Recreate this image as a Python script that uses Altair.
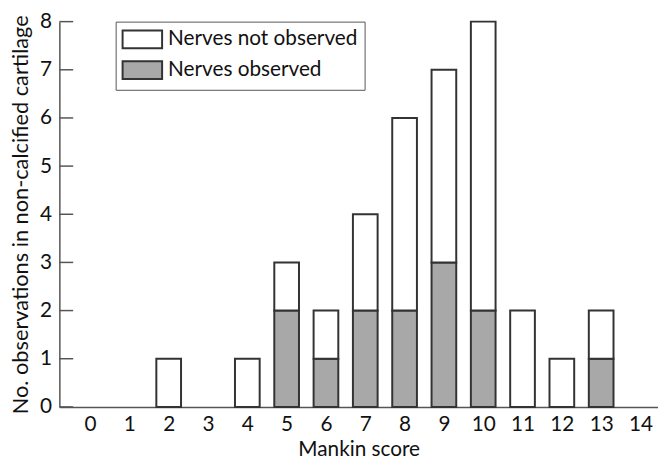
import altair as alt
import pandas as pd

# ---- data ----
scores = [2, 4, 5, 6, 7, 8, 9, 10, 11, 12, 13]
observed = [0, 0, 2, 1, 2, 2, 3, 2, 0, 0, 1]
not_observed = [1, 1, 1, 1, 2, 4, 4, 6, 2, 1, 1]
x_ticks = list(range(15))
y_ticks = list(range(9))
series = ["Nerves not observed", "Nerves observed"]
colors = ["#ffffff", "#a8a8a8"]

rows = []
for s, o, n in zip(scores, observed, not_observed):
    if o:
        rows.append({"score": s, "group": series[1], "count": o, "ord": 0})
    if n:
        rows.append({"score": s, "group": series[0], "count": n, "ord": 1})
df = pd.DataFrame(rows)

FONT = "Lato"
xscale = alt.Scale(domain=[-0.655, 14.32], nice=False, zero=False)
yscale = alt.Scale(domain=[0, 8], nice=False)

bars = alt.Chart(df).mark_bar(size=25, stroke="#333333", strokeWidth=2).encode(
    x=alt.X("score:Q", scale=xscale,
            axis=alt.Axis(values=x_ticks, title="Mankin score", ticks=False,
                          labelPadding=7, titlePadding=4, format="d")),
    y=alt.Y("count:Q", stack="zero", scale=yscale,
            axis=alt.Axis(values=y_ticks, title="No. observations in non-calcified cartilage",
                          ticks=False, labelPadding=8, titlePadding=7, format="d",
                          titleFontSize=22)),
    color=alt.Color("group:N", scale=alt.Scale(domain=series, range=colors),
                    legend=alt.Legend(title=None, orient="none", legendX=57, legendY=0,
                                      symbolType="M-2,-0.9H2V0.9H-2Z", symbolSize=400,
                                      symbolStrokeColor="#333333", symbolStrokeWidth=2,
                                      labelFontSize=21, labelFont=FONT, labelColor="#111111",
                                      labelLimit=0,
                                      strokeColor="#555555", fillColor="#ffffff",
                                      padding=7, symbolOffset=9, labelOffset=15,
                                      rowPadding=5)),
    order=alt.Order("ord:Q"),
)

ticks = alt.Chart(pd.DataFrame({"t": y_ticks})).mark_rule(color="#555555", strokeWidth=1.5).encode(
    y=alt.Y("t:Q", scale=yscale),
    x=alt.value(0),
    x2=alt.value(14),
)

chart = alt.layer(bars, ticks).properties(
    width=606, height=390,
    autosize=alt.AutoSizeParams(type="none"),
    padding={"left": 52, "top": 11, "right": 0, "bottom": 54},
).configure_view(stroke=None).configure_axis(
    grid=False,
    domainColor="#555555",
    domainWidth=1.5,
    labelFont=FONT,
    labelFontSize=21,
    labelColor="#111111",
    titleFont=FONT,
    titleFontSize=21,
    titleFontWeight="normal",
    titleColor="#111111",
)

chart.save("out.html", embed_options={"renderer": "svg", "actions": False})
